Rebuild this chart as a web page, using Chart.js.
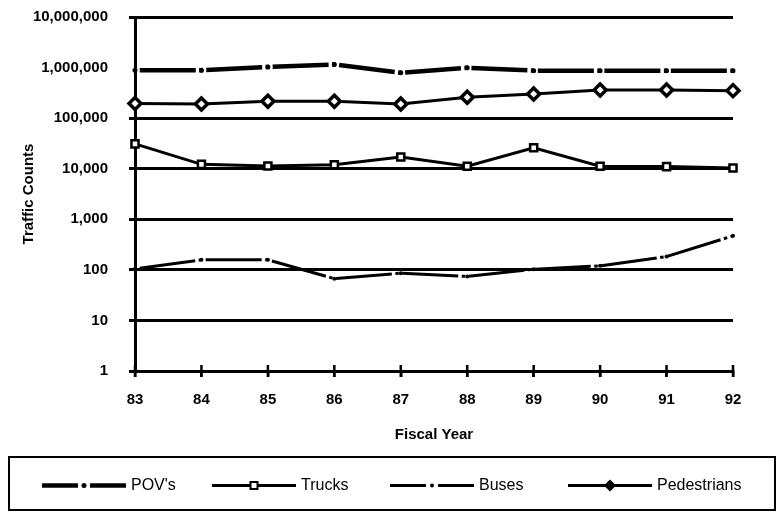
<!DOCTYPE html>
<html lang="en">
<head>
<meta charset="UTF-8">
<title>Traffic Counts by Fiscal Year</title>
<script src="https://cdn.jsdelivr.net/npm/chart.js"></script>
<style>
  html, body { margin: 0; padding: 0; background: #fff; }
</style>
</head>
<body>
<canvas id="chart" width="778" height="518"></canvas>
<script>
// fiscal years and counts
const years = ["83", "84", "85", "86", "87", "88", "89", "90", "91", "92"];
const povs = [885000, 885000, 1030000, 1150000, 790000, 990000, 870000, 870000, 870000, 870000];
const trucks = [31000, 12200, 11300, 12000, 17000, 11200, 26000, 11200, 11000, 10300];
const buses = [105, 158, 158, 67, 86, 74, 103, 120, 183, 470];
const pedestrians = [195000, 190000, 215000, 215000, 190000, 258000, 300000, 360000, 360000, 350000];
const yTicks = [1, 10, 100, 1000, 10000, 100000, 1000000, 10000000];

const FONT = "'Liberation Sans', Arial, Helvetica, sans-serif";

// dash, gap, dot, gap -- one pattern per category step so the dot sits on each year
const dashDot = [56, 3.5, 3.5, 3.5];

// legend drawn in a box under the axis title
const boxLegend = {
  id: "boxLegend",
  afterDraw(chart, args, opts) {
    const ctx = chart.ctx;
    ctx.save();
    ctx.strokeStyle = "#000";
    ctx.lineWidth = 2;
    ctx.strokeRect(opts.box[0], opts.box[1], opts.box[2], opts.box[3]);
    const y = opts.box[1] + opts.box[3] / 2 + 2;
    ctx.font = "16px " + FONT;
    ctx.fillStyle = "#000";
    ctx.textBaseline = "middle";
    chart.data.datasets.forEach((ds, i) => {
      const x1 = opts.starts[i], x2 = x1 + opts.sample, mid = (x1 + x2) / 2;
      ctx.lineWidth = ds.borderWidth;
      ctx.setLineDash([]);
      ctx.beginPath();
      if (ds.borderDash) {
        ctx.moveTo(x1, y); ctx.lineTo(mid - 6, y);
        ctx.moveTo(mid + 6, y); ctx.lineTo(x2, y);
      } else {
        ctx.moveTo(x1, y); ctx.lineTo(x2, y);
      }
      ctx.stroke();
      // marker
      const r = ds.pointRadius;
      ctx.lineWidth = 2;
      ctx.beginPath();
      if (ds.pointStyle === "rect") {
        ctx.fillStyle = "#fff";
        ctx.rect(mid - 3.5, y - 3.5, 7, 7);
        ctx.fill(); ctx.stroke();
      } else if (ds.pointStyle === "rectRot") {
        ctx.fillStyle = "#000";
        ctx.moveTo(mid, y - 6); ctx.lineTo(mid + 6, y);
        ctx.lineTo(mid, y + 6); ctx.lineTo(mid - 6, y);
        ctx.closePath();
        ctx.fill();
      } else {
        ctx.fillStyle = "#000";
        ctx.arc(mid, y, r, 0, Math.PI * 2);
        ctx.fill();
      }
      ctx.fillStyle = "#000";
      ctx.fillText(ds.label, x2 + 5, y);
    });
    ctx.restore();
  }
};

// tick marks that cross the x axis
const crossTicks = {
  id: "crossTicks",
  afterDraw(chart) {
    const xs = chart.scales.x, ctx = chart.ctx, b = chart.chartArea.bottom;
    ctx.save();
    ctx.strokeStyle = "#000";
    ctx.lineWidth = 2.5;
    ctx.beginPath();
    xs.ticks.forEach((t, i) => {
      const px = xs.getPixelForTick(i);
      ctx.moveTo(px, b - 6);
      ctx.lineTo(px, b + 6);
    });
    ctx.stroke();
    ctx.restore();
  }
};

new Chart(document.getElementById("chart"), {
  type: "line",
  data: {
    labels: years,
    datasets: [
      {
        label: "POV's",
        data: povs,
        borderColor: "#000",
        borderWidth: 4.5,
        borderDash: dashDot,
        borderDashOffset: 61.75,
        pointStyle: "circle",
        pointRadius: 2.5,
        pointBackgroundColor: "#000",
        pointBorderColor: "#000",
        pointBorderWidth: 0,
        tension: 0,
        clip: false
      },
      {
        label: "Trucks",
        data: trucks,
        borderColor: "#000",
        borderWidth: 3,
        pointStyle: "rect",
        pointRadius: 5,
        pointBackgroundColor: "#fff",
        pointBorderColor: "#000",
        pointBorderWidth: 2.5,
        tension: 0,
        clip: false
      },
      {
        label: "Buses",
        data: buses,
        borderColor: "#000",
        borderWidth: 3,
        borderDash: dashDot,
        borderDashOffset: 61.75,
        pointStyle: "circle",
        pointRadius: 2,
        pointBackgroundColor: "#000",
        pointBorderColor: "#000",
        pointBorderWidth: 0,
        tension: 0,
        clip: false
      },
      {
        label: "Pedestrians",
        data: pedestrians,
        borderColor: "#000",
        borderWidth: 3,
        pointStyle: "rectRot",
        pointRadius: 6,
        pointBackgroundColor: "#fff",
        pointBorderColor: "#000",
        pointBorderWidth: 3.5,
        tension: 0,
        clip: false
      }
    ]
  },
  options: {
    responsive: false,
    animation: false,
    devicePixelRatio: 1,
    layout: { padding: { left: 0, top: 17, right: 45, bottom: 68 } },
    plugins: {
      legend: { display: false },
      tooltip: { enabled: false },
      boxLegend: { box: [9, 457, 766, 53], starts: [42, 212, 390, 568], sample: 84 }
    },
    scales: {
      x: {
        type: "category",
        offset: false,
        grid: { drawOnChartArea: false, drawTicks: true, tickLength: 6, color: "#000", lineWidth: 2.5 },
        border: { color: "#000", width: 3 },
        ticks: { color: "#000", padding: 14, maxRotation: 0, font: { family: FONT, size: 15, weight: "bold" } },
        title: { display: true, text: "Fiscal Year", color: "#000", padding: { top: 0, bottom: 6 },
                 font: { family: FONT, size: 15, weight: "bold" } },
        afterFit(scale) { scale.height = 79; }
      },
      y: {
        type: "logarithmic",
        min: 1,
        max: 10000000,
        grid: {
          // the POV's line runs along the million line, which does not show in the original
          color: (c) => (c.tick && c.tick.value === 1000000 ? "rgba(0,0,0,0)" : "#000"),
          lineWidth: 3,
          drawTicks: true,
          tickLength: 6
        },
        border: { color: "#000", width: 3 },
        ticks: {
          color: "#000",
          padding: 21,
          font: { family: FONT, size: 15, weight: "bold" },
          callback: (v) => Number(v).toLocaleString("en-US")
        },
        afterBuildTicks(scale) { scale.ticks = yTicks.map(v => ({ value: v })); },
        title: { display: true, text: "Traffic Counts", color: "#000", padding: { top: 20, bottom: 0 },
                 font: { family: FONT, size: 15, weight: "bold" } },
        afterFit(scale) {
          scale.width = 135;
          scale.paddingTop = 0;
          scale.paddingBottom = 0;
        }
      }
    }
  },
  plugins: [boxLegend, crossTicks]
});
</script>
</body>
</html>
